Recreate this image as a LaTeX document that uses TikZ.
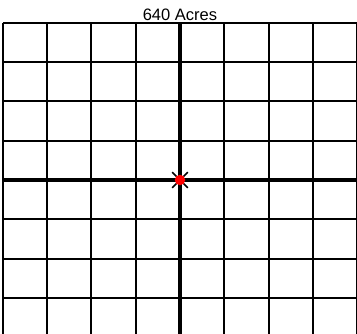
\documentclass[tikz,border=0pt]{standalone}
\usepackage{fontspec}
\setmainfont{Liberation Sans}
\usetikzlibrary{positioning}

\begin{document}
\begin{tikzpicture}[
    x=0.886cm, y=0.786cm,
    gridline/.style={line width=1.1pt, black},
    axisline/.style={line width=2.4pt, black},
    tickline/.style={line width=0.9pt, black},
    cornerdot/.style={circle, fill=red, inner sep=0pt, minimum size=0.21cm},
    title/.style={font=\fontsize{9.4}{11}\selectfont, inner sep=0pt},
]
% Page frame, grid runs off the right and bottom edges
\useasboundingbox (-4.063,-3.893) rectangle (3.995,4.58);
\clip (-4.063,-3.893) rectangle (3.995,4.58);

% Quarter-quarter grid
\draw[gridline, step={(1,1)}] (-4,-4) grid (4,4);

% Section lines through the centre
\coordinate (top) at (0,4);
\coordinate (bottom) at (0,-4);
\coordinate (left) at (-4,0);
\coordinate (right) at (4,0);
\draw[axisline] (top) -- (bottom);
\draw[axisline] (left) -- (right);

% Title
\node[title] (acres) at (0,4.2) {640 Acres};

% Centre corner mark
\coordinate (centre) at (0,0);
\draw[tickline] (centre) -- ++(45:0.22cm);
\draw[tickline] (centre) -- ++(135:0.22cm);
\draw[tickline] (centre) -- ++(225:0.22cm);
\draw[tickline] (centre) -- ++(315:0.22cm);
\node[cornerdot] (corner) at (centre) {};
\end{tikzpicture}
\end{document}
